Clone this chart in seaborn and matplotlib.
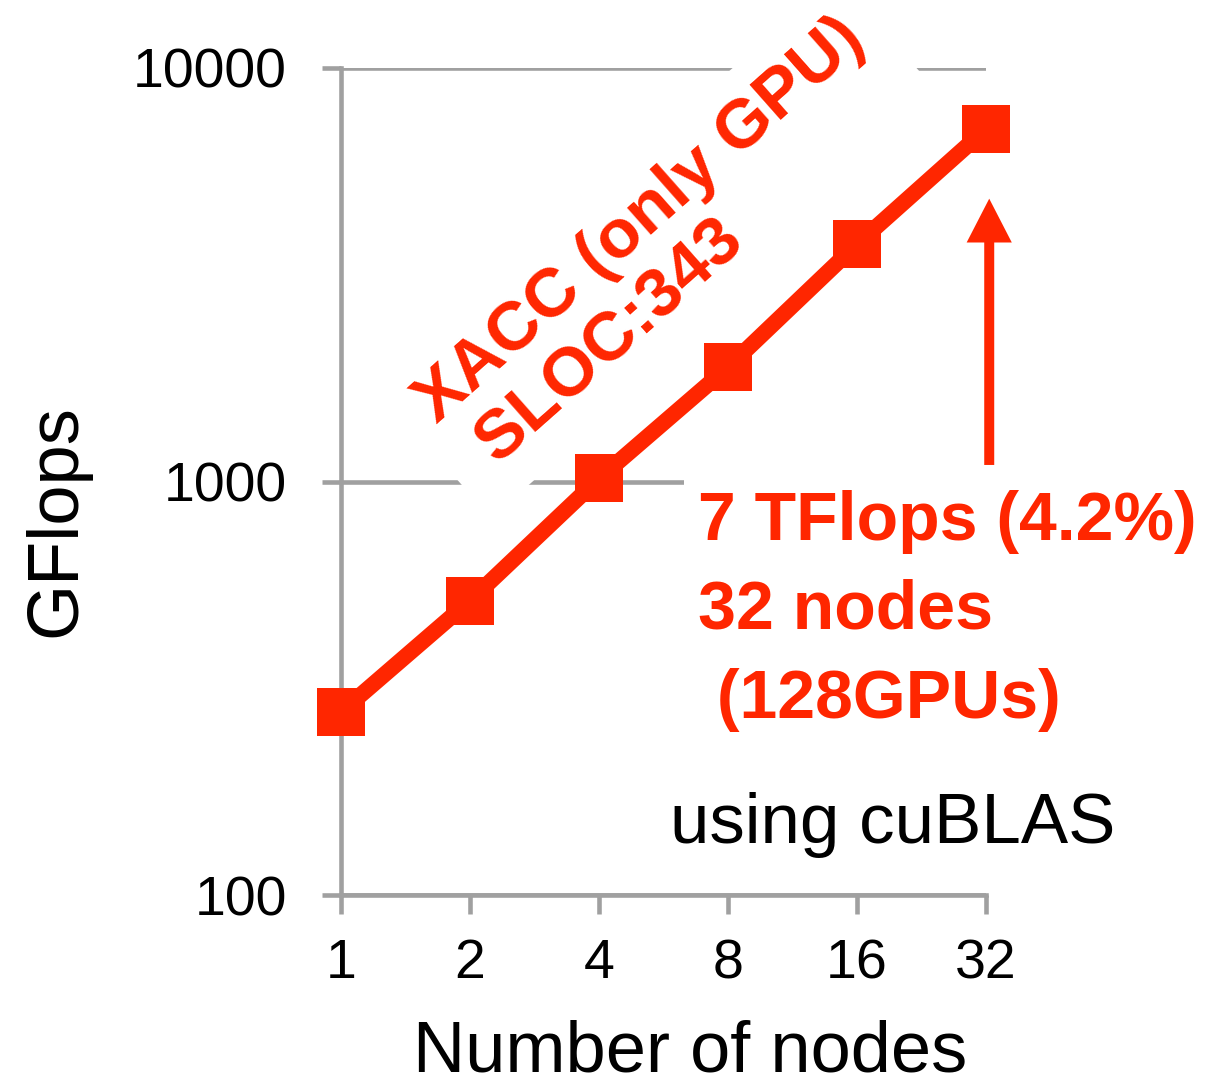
import numpy as np
import pandas as pd
import seaborn as sns
import matplotlib
import matplotlib.pyplot as plt
from matplotlib.ticker import NullLocator

matplotlib.use('Agg')

nodes = [1, 2, 4, 8, 16, 32]
node_labels = ['1', '2', '4', '8', '16', '32']
gflops = [277, 515, 1017, 1890, 3750, 7120]
ytick_vals = [100, 1000, 10000]
ytick_labels = ['100', '1000', '10000']

red = '#FF2600'
gray = '#A0A0A0'

sns.set_theme(style='ticks')
plt.rcParams['font.family'] = ['Liberation Sans', 'DejaVu Sans']

df = pd.DataFrame({'nodes': nodes, 'gflops': gflops})

fig = plt.figure(figsize=(12.08, 10.86), dpi=100)
ax = fig.add_axes([341 / 1208, 1 - 895 / 1086, 645 / 1208, 827 / 1086])

sns.lineplot(data=df, x='nodes', y='gflops', ax=ax, color=red, linewidth=11.5,
             marker='s', markersize=34, markeredgewidth=0, clip_on=False, zorder=5)

ax.set_xscale('log', base=2)
ax.set_yscale('log')
ax.set_xlim(1, 32)
ax.set_ylim(100, 10000)
ax.set_xticks(nodes, labels=node_labels)
ax.set_yticks(ytick_vals, labels=ytick_labels)
ax.xaxis.set_minor_locator(NullLocator())
ax.yaxis.set_minor_locator(NullLocator())

ax.yaxis.grid(True, color=gray, linewidth=3.3)
ax.xaxis.grid(False)
ax.set_axisbelow(True)
for s in ['top', 'right']:
    ax.spines[s].set_visible(False)
for s in ['left', 'bottom']:
    ax.spines[s].set_color(gray)
    ax.spines[s].set_linewidth(3.3)

ax.tick_params(axis='both', which='major', direction='out', length=14, width=3.3,
               color=gray, labelsize=40, labelcolor='black')
ax.tick_params(axis='x', pad=17)
ax.tick_params(axis='y', pad=25)

ax.set_xlabel('Number of nodes', fontsize=52, color='black')
ax.xaxis.set_label_coords(0.541, -0.150)
ax.set_ylabel('GFlops', fontsize=52, color='black')
ax.yaxis.set_label_coords(-0.389, 0.453)

# annotations
ax.text(0.500, 0.783, 'XACC (only GPU)\n SLOC:343', transform=ax.transAxes,
        rotation=41.5, rotation_mode='anchor', ha='center', va='center',
        multialignment='left', linespacing=1.15, fontsize=50, fontweight='bold',
        color=red, zorder=3,
        bbox=dict(boxstyle='square,pad=0.3', facecolor='white', edgecolor='none'))

ax.text(0.553, 0.490, '7 TFlops (4.2%)\n32 nodes\n (128GPUs)', transform=ax.transAxes,
        ha='left', va='top', multialignment='left', linespacing=1.5,
        fontsize=49, fontweight='bold', color=red, zorder=3,
        bbox=dict(boxstyle='square,pad=0.2', facecolor='white', edgecolor='none'))

ax.arrow(1.005, 0.520, 0, 0.842 - 0.520, transform=ax.transAxes, width=0.0155,
         head_width=0.07, head_length=0.053, length_includes_head=True,
         color=red, linewidth=0, clip_on=False, zorder=6)

ax.text(1.2, 0.063, 'using cuBLAS', transform=ax.transAxes, ha='right',
        va='baseline', fontsize=51, color='black')

fig.savefig('out.png', dpi=100)
